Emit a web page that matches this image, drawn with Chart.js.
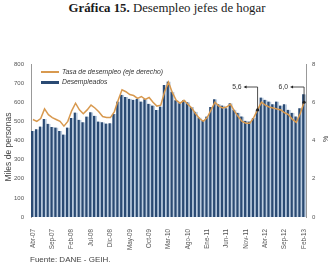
<!DOCTYPE html>
<html>
<head>
<meta charset="utf-8">
<script src="https://cdn.jsdelivr.net/npm/chart.js@4"></script>
<style>
  body { margin: 0; background: #fff; }
  #wrap { position: relative; width: 334px; height: 273px; overflow: hidden; }
  #box { position: absolute; left: 0; top: 0; width: 334px; height: 273px; }
  #title { position: absolute; top: 1px; left: 0; width: 334px; text-align: center;
           font: 12.8px 'Liberation Serif', serif; color: #1a1a1a; }
  #source { position: absolute; left: 30px; top: 255px; font: 8px 'Liberation Sans', Arial, sans-serif; color: #444; }
</style>
</head>
<body>
<div id="wrap">
  <div id="title"><b>Gráfica 15.</b> Desempleo jefes de hogar</div>
  <div id="box"><canvas id="chart"></canvas></div>
  <div id="source">Fuente: DANE - GEIH.</div>
</div>
<script>
// --- Data ---
const months = [
  'Abr-07','May-07','Jun-07','Jul-07','Ago-07','Sep-07','Oct-07','Nov-07','Dic-07',
  'Ene-08','Feb-08','Mar-08','Abr-08','May-08','Jun-08','Jul-08','Ago-08','Sep-08','Oct-08','Nov-08','Dic-08',
  'Ene-09','Feb-09','Mar-09','Abr-09','May-09','Jun-09','Jul-09','Ago-09','Sep-09','Oct-09','Nov-09','Dic-09',
  'Ene-10','Feb-10','Mar-10','Abr-10','May-10','Jun-10','Jul-10','Ago-10','Sep-10','Oct-10','Nov-10','Dic-10',
  'Ene-11','Feb-11','Mar-11','Abr-11','May-11','Jun-11','Jul-11','Ago-11','Sep-11','Oct-11','Nov-11','Dic-11',
  'Ene-12','Feb-12','Mar-12','Abr-12','May-12','Jun-12','Jul-12','Ago-12','Sep-12','Oct-12','Nov-12','Dic-12',
  'Ene-13','Feb-13'
];

// desempleados, miles de personas
const desempleados = [
  450, 459, 473, 513, 487, 470, 468, 450, 431, 468,
  517, 546, 508, 496, 525, 548, 529, 499, 496, 489,
  490, 538, 604, 639, 627, 618, 613, 618, 604, 616,
  592, 583, 560, 578, 690, 708, 655, 610, 595, 610,
  600, 575, 550, 520, 505, 525, 575, 616, 590, 583,
  569, 595, 561, 545, 526, 503, 499, 517, 561, 625,
  613, 604, 590, 604, 583, 590, 561, 545, 526, 569,
  642
];

// tasa de desempleo, %
const tasa = [
  5.1, 5.0, 5.15, 5.65, 5.35, 5.2, 5.1, 5.0, 4.75, 5.0,
  5.55, 5.95, 5.6, 5.4, 5.6, 5.85, 5.7, 5.5, 5.25, 5.2,
  5.2, 5.5, 6.1, 6.65, 6.55, 6.4, 6.35, 6.2, 6.3, 6.15,
  6.25, 6.0, 5.8, 5.85, 6.55, 7.05, 6.5, 6.1, 5.95, 6.1,
  5.9, 5.7, 5.4, 5.15, 5.0, 5.2, 5.6, 6.0, 5.8, 5.7,
  5.75, 5.9, 5.55, 5.25, 5.0, 4.9, 4.9, 5.2, 5.6, 6.0,
  5.85, 5.75, 5.7, 5.65, 5.6, 5.45, 5.35, 5.1, 4.95, 5.4,
  6.0
];

const leftTicks = [0, 100, 200, 300, 400, 500, 600, 700, 800];
const rightTicks = [0, 2, 4, 6, 8];
const marked = [58, 70]; // Feb-12, Feb-13

const NAVY = '#2a4a73';
const LIGHT = '#bccde0';
const ORANGE = '#d8994f';
const GREY = '#555';

// legend, axis titles and the two callouts
const extras = {
  id: 'extras',
  afterDraw(chart) {
    const ctx = chart.ctx;
    const area = chart.chartArea;
    const xs = chart.scales.x;
    const y1 = chart.scales.y1;
    ctx.save();

    // legend
    ctx.lineCap = 'butt';
    ctx.strokeStyle = ORANGE;
    ctx.lineWidth = 2;
    ctx.beginPath(); ctx.moveTo(41, 72); ctx.lineTo(59, 72); ctx.stroke();
    ctx.strokeStyle = NAVY;
    ctx.lineWidth = 3;
    ctx.beginPath(); ctx.moveTo(41, 82.5); ctx.lineTo(59, 82.5); ctx.stroke();
    ctx.fillStyle = '#333';
    ctx.font = 'italic 6.8px "Liberation Sans", Arial, sans-serif';
    ctx.textBaseline = 'middle';
    ctx.textAlign = 'left';
    ctx.fillText('Tasa de desempleo (eje derecho)', 62, 72);
    ctx.fillText('Desempleados', 62, 82.5);

    // axis titles
    ctx.fillStyle = '#444';
    ctx.font = '8.5px "Liberation Sans", Arial, sans-serif';
    ctx.textAlign = 'center';
    ctx.save();
    ctx.translate(9, 147);
    ctx.rotate(-Math.PI / 2);
    ctx.fillText('Miles de personas', 0, 0);
    ctx.restore();
    ctx.save();
    ctx.translate(326, 139);
    ctx.rotate(-Math.PI / 2);
    ctx.font = '7px "Liberation Sans", Arial, sans-serif';
    ctx.fillText('%', 0, 0);
    ctx.restore();

    // callouts
    const ly = area.top + 23;
    marked.forEach(i => {
      const px = xs.getPixelForValue(i);
      const py = y1.getPixelForValue(tasa[i]);
      ctx.strokeStyle = '#222';
      ctx.lineWidth = 0.8;
      ctx.beginPath();
      ctx.moveTo(px, py);
      ctx.lineTo(px, ly);
      ctx.lineTo(px - 12, ly);
      ctx.stroke();
      ctx.fillStyle = '#222';
      ctx.beginPath();
      ctx.moveTo(px - 14, ly);
      ctx.lineTo(px - 11, ly - 1.5);
      ctx.lineTo(px - 11, ly + 1.5);
      ctx.closePath();
      ctx.fill();
      ctx.beginPath();
      ctx.arc(px, py, 1.6, 0, Math.PI * 2);
      ctx.fill();
      ctx.fillStyle = '#333';
      ctx.font = '6.8px "Liberation Sans", Arial, sans-serif';
      ctx.textAlign = 'right';
      ctx.fillText(tasa[i].toFixed(1).replace('.', ','), px - 16, ly);
    });
    ctx.restore();
  }
};

new Chart(document.getElementById('chart'), {
  type: 'bar',
  data: {
    labels: months,
    datasets: [
      {
        type: 'line',
        label: 'Tasa de desempleo (eje derecho)',
        data: tasa,
        yAxisID: 'y1',
        borderColor: ORANGE,
        borderWidth: 1.5,
        pointRadius: 0,
        tension: 0,
        order: 0
      },
      {
        type: 'bar',
        label: 'Desempleados',
        data: desempleados,
        yAxisID: 'y',
        backgroundColor: NAVY,
        borderColor: LIGHT,
        borderWidth: { left: 0, right: 1.9, top: 0, bottom: 0 },
        borderSkipped: false,
        barPercentage: 1,
        categoryPercentage: 1,
        order: 1
      }
    ]
  },
  options: {
    responsive: true,
    maintainAspectRatio: false,
    animation: false,
    layout: { padding: { top: 64, bottom: 0, left: 0, right: 0 } },
    plugins: {
      legend: { display: false },
      tooltip: { enabled: false }
    },
    scales: {
      x: {
        grid: { display: false },
        border: { display: false },
        ticks: {
          autoSkip: false,
          minRotation: 90,
          maxRotation: 90,
          padding: 4,
          color: GREY,
          font: { size: 6.3, family: 'Liberation Sans, Arial, sans-serif' },
          callback: function (v, i) { return i % 5 === 0 ? months[i] : ''; }
        },
        afterFit(s) { s.height = 56; }
      },
      y: {
        position: 'left',
        min: 0,
        max: 800,
        grid: { display: false, drawTicks: false },
        border: { display: true, color: '#999', width: 1 },
        afterBuildTicks(s) { s.ticks = leftTicks.map(v => ({ value: v })); },
        ticks: {
          padding: 7,
          color: GREY,
          font: { size: 6, family: 'Liberation Sans, Arial, sans-serif' }
        },
        afterFit(s) { s.width = 31; }
      },
      y1: {
        position: 'right',
        min: 0,
        max: 8,
        grid: { display: false, drawTicks: false },
        border: { display: true, color: '#999', width: 1 },
        afterBuildTicks(s) { s.ticks = rightTicks.map(v => ({ value: v })); },
        ticks: {
          padding: 6,
          color: GREY,
          font: { size: 6, family: 'Liberation Sans, Arial, sans-serif' }
        },
        afterFit(s) { s.width = 28; }
      }
    }
  },
  plugins: [extras]
});
</script>
</body>
</html>
